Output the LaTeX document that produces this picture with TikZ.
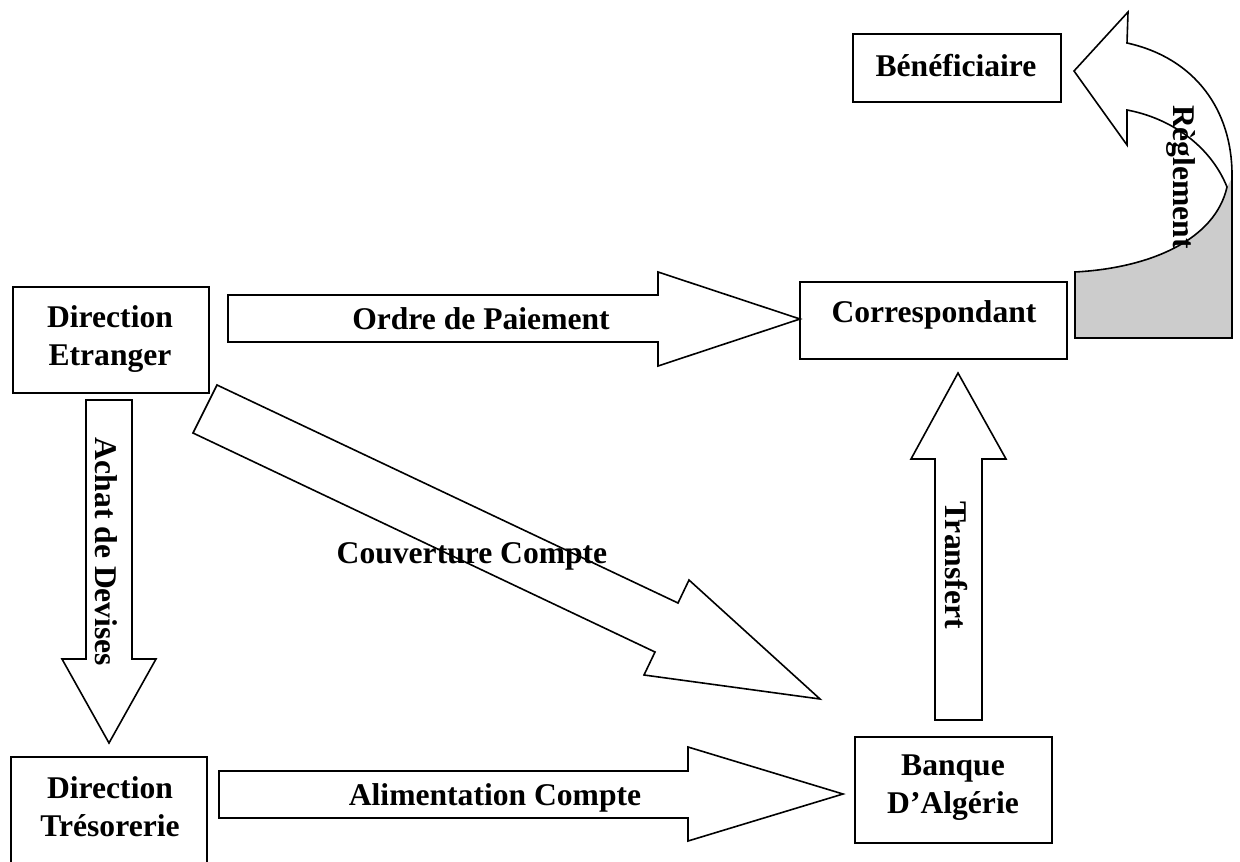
\documentclass[tikz,border=0pt]{standalone}
\usepackage{fontspec}
\setmainfont{Liberation Serif}
\begin{document}
\begin{tikzpicture}[x=0.5pt,y=-0.5pt,
  box/.style={draw, line width=1pt, inner sep=0pt},
  blockarrow/.style={draw, line width=0.8pt, fill=white, line join=miter},
  lbl/.style={font=\bfseries\fontsize{15.8}{19}\selectfont, inner sep=0pt, align=center}]
\useasboundingbox (0,0) rectangle (1240,861);

% boxes
\node[box, minimum width=98pt,   minimum height=53pt]   (etr) at (110.5,340)  {};
\node[box, minimum width=98pt,   minimum height=61.5pt] (tre) at (109,818.5)  {};
\node[box, minimum width=104pt,  minimum height=34pt]   (ben) at (957,68)     {};
\node[box, minimum width=133.5pt,minimum height=38.5pt] (cor) at (933.5,320.5){};
\node[box, minimum width=98.5pt, minimum height=53pt]   (ban) at (953.5,790)  {};

\node[lbl] (etr-t) at (110,339) {Direction\\Etranger};
\node[lbl] (tre-t) at (110,807) {Direction\\Trésorerie};
\node[lbl] (ben-t) at (956,66)  {Bénéficiaire};
\node[lbl] (cor-t) at (934,314.5) {Correspondant};
\node[lbl] (ban-t) at (953,788) {Banque\\D’Algérie};

% straight block arrows
\draw[blockarrow] (228,295) -- (658,295) -- (658,272) -- (800,319) -- (658,366) -- (658,342) -- (228,342) -- cycle;
\draw[blockarrow] (219,771) -- (688,771) -- (688,747) -- (843,794) -- (688,841) -- (688,818) -- (219,818) -- cycle;
\draw[blockarrow] (86,400) -- (132,400) -- (132,659) -- (156,659) -- (109,743) -- (62,659) -- (86,659) -- cycle;
\draw[blockarrow] (935,720) -- (935,459) -- (911,459) -- (958,373) -- (1006,459) -- (982,459) -- (982,720) -- cycle;
\draw[blockarrow] (217,385) -- (678,603) -- (689,580) -- (820,699) -- (644,675) -- (655,652) -- (193,433) -- cycle;

\node[lbl] (ordre) at (481,319) {Ordre de Paiement};
\node[lbl] (alim)  at (495,798) {Alimentation Compte};
\node[lbl] (couv)  at (472,556) {Couverture Compte};
\node[lbl, rotate=-90] (achat) at (106,552) {Achat de Devises};
\node[lbl, rotate=-90] (transf) at (956,565) {Transfert};

% curved arrow towards the beneficiary
\fill[gray!40] (1075,272) .. controls (1150,268) and (1215,240) .. (1227,187)
  -- (1232,178) -- (1232,338) -- (1075,338) -- cycle;
\draw[line width=0.8pt, line join=miter]
  (1074,71) -- (1128,12) -- (1127,43)
  .. controls (1195,58) and (1232,110) .. (1232,175)
  -- (1232,338) -- (1075,338) -- (1075,272)
  .. controls (1150,268) and (1215,240) .. (1227,187)
  .. controls (1210,145) and (1170,118) .. (1127,110)
  -- (1127,145) -- cycle;
\node[lbl, rotate=-90] (regl) at (1181,177) {Règlement};
\end{tikzpicture}
\end{document}
